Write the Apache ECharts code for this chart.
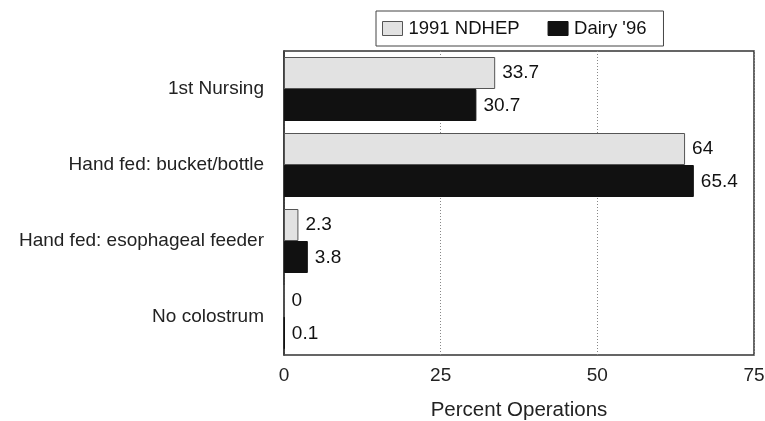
<!DOCTYPE html>
<html><head><meta charset="utf-8">
<script src="https://cdn.jsdelivr.net/npm/echarts@6/dist/echarts.min.js"></script>
<style>html,body{margin:0;padding:0;background:#fff}#c{width:765px;height:421px}</style>
</head><body><div id="c"></div>
<script>
const categories = ["1st Nursing", "Hand fed: bucket/bottle", "Hand fed: esophageal feeder", "No colostrum"];
const ndhep1991 = [33.7, 64, 2.3, 0];
const dairy96 = [30.7, 65.4, 3.8, 0.1];
const xTicks = [0, 25, 50, 75];

const font = "Liberation Sans, Arial, sans-serif";
const chart = echarts.init(document.getElementById('c'), null, {renderer: 'canvas'});
chart.setOption({
  animation: false,
  backgroundColor: '#fff',
  grid: {left: 284, right: 11, top: 51, bottom: 66, show: true, borderColor: '#333', borderWidth: 1.5,
    backgroundColor: 'transparent', containLabel: false, outerBoundsMode: 'none'},
  legend: {
    top: 11, left: 376,
    icon: 'rect',
    itemWidth: 20, itemHeight: 14, itemGap: 28,
    padding: [8, 17, 8, 6],
    borderColor: '#444', borderWidth: 1,
    textStyle: {fontFamily: font, fontSize: 18.5, color: '#111', padding: [0, 0, 0, 1]},
    data: [
      {name: '1991 NDHEP', itemStyle: {color: '#e2e2e2', borderColor: '#555', borderWidth: 1}},
      {name: "Dairy '96", itemStyle: {color: '#111', borderColor: '#111', borderWidth: 1}}
    ]
  },
  xAxis: {
    type: 'value', min: 0, max: 75, interval: 25,
    name: 'Percent Operations', nameLocation: 'middle', nameGap: 45,
    nameTextStyle: {fontFamily: font, fontSize: 20.5, color: '#222'},
    axisLine: {show: false}, axisTick: {show: false},
    axisLabel: {fontFamily: font, fontSize: 19, color: '#222', margin: 11,
      formatter: v => xTicks.includes(v) ? String(v) : ''},
    splitLine: {show: true, lineStyle: {color: '#888', type: [1, 2], width: 1}}
  },
  yAxis: {
    type: 'category', data: categories, inverse: true,
    axisLine: {show: true, lineStyle: {color: '#333', width: 1.5}}, axisTick: {show: false},
    axisLabel: {fontFamily: font, fontSize: 19, color: '#222', margin: 20}
  },
  series: [
    {name: '1991 NDHEP', type: 'bar', data: ndhep1991, barWidth: 32, barGap: '0%',
      itemStyle: {color: '#e2e2e2', borderColor: '#555', borderWidth: 1},
      label: {show: true, position: 'right', distance: 7, fontFamily: font, fontSize: 19, color: '#111', offset: [0, 0]}},
    {name: "Dairy '96", type: 'bar', data: dairy96, barWidth: 32,
      itemStyle: {color: '#111', borderColor: '#111', borderWidth: 1},
      label: {show: true, position: 'right', distance: 7, fontFamily: font, fontSize: 19, color: '#111', offset: [0, 1]}}
  ]
});
</script></body></html>
